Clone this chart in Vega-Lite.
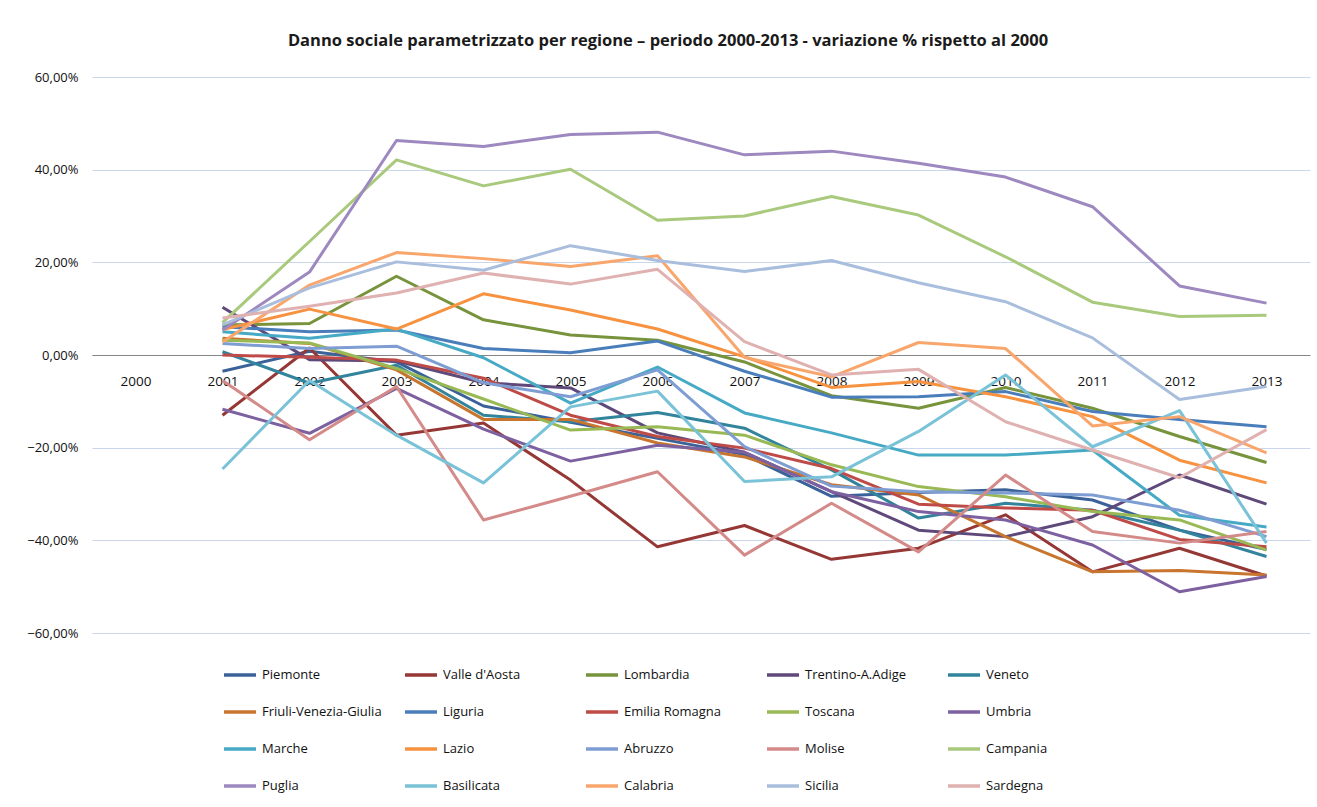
{
"$schema": "https://vega.github.io/schema/vega-lite/v6.json",
"width": 1218, "height": 556,
"autosize": {"type": "none"},
"padding": {"left": 92, "top": 77, "right": 7, "bottom": 174},
"background": "white",
"title": {"text": "Danno sociale parametrizzato per regione – periodo 2000-2013 - variazione % rispetto al 2000", "font": "Open Sans", "fontSize": 16.5, "fontWeight": "bold", "color": "#1a1a1a", "anchor": "middle", "frame": "group", "dx": -33, "offset": 22},
"config": {"view": {"stroke": null}},
"data": {"values": [
{"r":"Piemonte","y":"2001","v":-0.035},{"r":"Piemonte","y":"2002","v":0.008},{"r":"Piemonte","y":"2003","v":-0.015},{"r":"Piemonte","y":"2004","v":-0.11},{"r":"Piemonte","y":"2005","v":-0.145},{"r":"Piemonte","y":"2006","v":-0.18},{"r":"Piemonte","y":"2007","v":-0.215},{"r":"Piemonte","y":"2008","v":-0.305},{"r":"Piemonte","y":"2009","v":-0.297},{"r":"Piemonte","y":"2010","v":-0.291},{"r":"Piemonte","y":"2011","v":-0.313},{"r":"Piemonte","y":"2012","v":-0.378},{"r":"Piemonte","y":"2013","v":-0.42},
{"r":"Valle d'Aosta","y":"2001","v":-0.13},{"r":"Valle d'Aosta","y":"2002","v":0.015},{"r":"Valle d'Aosta","y":"2003","v":-0.173},{"r":"Valle d'Aosta","y":"2004","v":-0.147},{"r":"Valle d'Aosta","y":"2005","v":-0.27},{"r":"Valle d'Aosta","y":"2006","v":-0.414},{"r":"Valle d'Aosta","y":"2007","v":-0.368},{"r":"Valle d'Aosta","y":"2008","v":-0.441},{"r":"Valle d'Aosta","y":"2009","v":-0.417},{"r":"Valle d'Aosta","y":"2010","v":-0.345},{"r":"Valle d'Aosta","y":"2011","v":-0.468},{"r":"Valle d'Aosta","y":"2012","v":-0.417},{"r":"Valle d'Aosta","y":"2013","v":-0.477},
{"r":"Lombardia","y":"2001","v":0.065},{"r":"Lombardia","y":"2002","v":0.068},{"r":"Lombardia","y":"2003","v":0.17},{"r":"Lombardia","y":"2004","v":0.076},{"r":"Lombardia","y":"2005","v":0.043},{"r":"Lombardia","y":"2006","v":0.032},{"r":"Lombardia","y":"2007","v":-0.015},{"r":"Lombardia","y":"2008","v":-0.088},{"r":"Lombardia","y":"2009","v":-0.115},{"r":"Lombardia","y":"2010","v":-0.07},{"r":"Lombardia","y":"2011","v":-0.115},{"r":"Lombardia","y":"2012","v":-0.176},{"r":"Lombardia","y":"2013","v":-0.232},
{"r":"Trentino-A.Adige","y":"2001","v":0.103},{"r":"Trentino-A.Adige","y":"2002","v":-0.01},{"r":"Trentino-A.Adige","y":"2003","v":-0.013},{"r":"Trentino-A.Adige","y":"2004","v":-0.06},{"r":"Trentino-A.Adige","y":"2005","v":-0.071},{"r":"Trentino-A.Adige","y":"2006","v":-0.168},{"r":"Trentino-A.Adige","y":"2007","v":-0.21},{"r":"Trentino-A.Adige","y":"2008","v":-0.295},{"r":"Trentino-A.Adige","y":"2009","v":-0.378},{"r":"Trentino-A.Adige","y":"2010","v":-0.392},{"r":"Trentino-A.Adige","y":"2011","v":-0.349},{"r":"Trentino-A.Adige","y":"2012","v":-0.259},{"r":"Trentino-A.Adige","y":"2013","v":-0.322},
{"r":"Veneto","y":"2001","v":0.007},{"r":"Veneto","y":"2002","v":-0.061},{"r":"Veneto","y":"2003","v":-0.022},{"r":"Veneto","y":"2004","v":-0.13},{"r":"Veneto","y":"2005","v":-0.144},{"r":"Veneto","y":"2006","v":-0.124},{"r":"Veneto","y":"2007","v":-0.158},{"r":"Veneto","y":"2008","v":-0.248},{"r":"Veneto","y":"2009","v":-0.352},{"r":"Veneto","y":"2010","v":-0.32},{"r":"Veneto","y":"2011","v":-0.335},{"r":"Veneto","y":"2012","v":-0.378},{"r":"Veneto","y":"2013","v":-0.435},
{"r":"Friuli-Venezia-Giulia","y":"2001","v":0.036},{"r":"Friuli-Venezia-Giulia","y":"2002","v":0.025},{"r":"Friuli-Venezia-Giulia","y":"2003","v":-0.032},{"r":"Friuli-Venezia-Giulia","y":"2004","v":-0.139},{"r":"Friuli-Venezia-Giulia","y":"2005","v":-0.139},{"r":"Friuli-Venezia-Giulia","y":"2006","v":-0.19},{"r":"Friuli-Venezia-Giulia","y":"2007","v":-0.22},{"r":"Friuli-Venezia-Giulia","y":"2008","v":-0.28},{"r":"Friuli-Venezia-Giulia","y":"2009","v":-0.302},{"r":"Friuli-Venezia-Giulia","y":"2010","v":-0.392},{"r":"Friuli-Venezia-Giulia","y":"2011","v":-0.468},{"r":"Friuli-Venezia-Giulia","y":"2012","v":-0.465},{"r":"Friuli-Venezia-Giulia","y":"2013","v":-0.475},
{"r":"Liguria","y":"2001","v":0.061},{"r":"Liguria","y":"2002","v":0.05},{"r":"Liguria","y":"2003","v":0.054},{"r":"Liguria","y":"2004","v":0.014},{"r":"Liguria","y":"2005","v":0.005},{"r":"Liguria","y":"2006","v":0.03},{"r":"Liguria","y":"2007","v":-0.035},{"r":"Liguria","y":"2008","v":-0.091},{"r":"Liguria","y":"2009","v":-0.09},{"r":"Liguria","y":"2010","v":-0.079},{"r":"Liguria","y":"2011","v":-0.122},{"r":"Liguria","y":"2012","v":-0.139},{"r":"Liguria","y":"2013","v":-0.155},
{"r":"Emilia Romagna","y":"2001","v":0.0},{"r":"Emilia Romagna","y":"2002","v":-0.005},{"r":"Emilia Romagna","y":"2003","v":-0.011},{"r":"Emilia Romagna","y":"2004","v":-0.05},{"r":"Emilia Romagna","y":"2005","v":-0.13},{"r":"Emilia Romagna","y":"2006","v":-0.176},{"r":"Emilia Romagna","y":"2007","v":-0.201},{"r":"Emilia Romagna","y":"2008","v":-0.245},{"r":"Emilia Romagna","y":"2009","v":-0.322},{"r":"Emilia Romagna","y":"2010","v":-0.33},{"r":"Emilia Romagna","y":"2011","v":-0.335},{"r":"Emilia Romagna","y":"2012","v":-0.398},{"r":"Emilia Romagna","y":"2013","v":-0.414},
{"r":"Toscana","y":"2001","v":0.032},{"r":"Toscana","y":"2002","v":0.026},{"r":"Toscana","y":"2003","v":-0.029},{"r":"Toscana","y":"2004","v":-0.095},{"r":"Toscana","y":"2005","v":-0.162},{"r":"Toscana","y":"2006","v":-0.155},{"r":"Toscana","y":"2007","v":-0.173},{"r":"Toscana","y":"2008","v":-0.237},{"r":"Toscana","y":"2009","v":-0.284},{"r":"Toscana","y":"2010","v":-0.306},{"r":"Toscana","y":"2011","v":-0.338},{"r":"Toscana","y":"2012","v":-0.356},{"r":"Toscana","y":"2013","v":-0.421},
{"r":"Umbria","y":"2001","v":-0.117},{"r":"Umbria","y":"2002","v":-0.169},{"r":"Umbria","y":"2003","v":-0.072},{"r":"Umbria","y":"2004","v":-0.16},{"r":"Umbria","y":"2005","v":-0.229},{"r":"Umbria","y":"2006","v":-0.195},{"r":"Umbria","y":"2007","v":-0.21},{"r":"Umbria","y":"2008","v":-0.295},{"r":"Umbria","y":"2009","v":-0.338},{"r":"Umbria","y":"2010","v":-0.356},{"r":"Umbria","y":"2011","v":-0.41},{"r":"Umbria","y":"2012","v":-0.511},{"r":"Umbria","y":"2013","v":-0.478},
{"r":"Marche","y":"2001","v":0.05},{"r":"Marche","y":"2002","v":0.036},{"r":"Marche","y":"2003","v":0.056},{"r":"Marche","y":"2004","v":-0.006},{"r":"Marche","y":"2005","v":-0.104},{"r":"Marche","y":"2006","v":-0.026},{"r":"Marche","y":"2007","v":-0.125},{"r":"Marche","y":"2008","v":-0.168},{"r":"Marche","y":"2009","v":-0.216},{"r":"Marche","y":"2010","v":-0.216},{"r":"Marche","y":"2011","v":-0.205},{"r":"Marche","y":"2012","v":-0.346},{"r":"Marche","y":"2013","v":-0.371},
{"r":"Lazio","y":"2001","v":0.055},{"r":"Lazio","y":"2002","v":0.099},{"r":"Lazio","y":"2003","v":0.056},{"r":"Lazio","y":"2004","v":0.132},{"r":"Lazio","y":"2005","v":0.097},{"r":"Lazio","y":"2006","v":0.056},{"r":"Lazio","y":"2007","v":-0.004},{"r":"Lazio","y":"2008","v":-0.07},{"r":"Lazio","y":"2009","v":-0.057},{"r":"Lazio","y":"2010","v":-0.09},{"r":"Lazio","y":"2011","v":-0.133},{"r":"Lazio","y":"2012","v":-0.227},{"r":"Lazio","y":"2013","v":-0.276},
{"r":"Abruzzo","y":"2001","v":0.025},{"r":"Abruzzo","y":"2002","v":0.014},{"r":"Abruzzo","y":"2003","v":0.019},{"r":"Abruzzo","y":"2004","v":-0.06},{"r":"Abruzzo","y":"2005","v":-0.09},{"r":"Abruzzo","y":"2006","v":-0.032},{"r":"Abruzzo","y":"2007","v":-0.198},{"r":"Abruzzo","y":"2008","v":-0.283},{"r":"Abruzzo","y":"2009","v":-0.295},{"r":"Abruzzo","y":"2010","v":-0.298},{"r":"Abruzzo","y":"2011","v":-0.302},{"r":"Abruzzo","y":"2012","v":-0.335},{"r":"Abruzzo","y":"2013","v":-0.392},
{"r":"Molise","y":"2001","v":-0.055},{"r":"Molise","y":"2002","v":-0.183},{"r":"Molise","y":"2003","v":-0.068},{"r":"Molise","y":"2004","v":-0.356},{"r":"Molise","y":"2005","v":-0.305},{"r":"Molise","y":"2006","v":-0.252},{"r":"Molise","y":"2007","v":-0.432},{"r":"Molise","y":"2008","v":-0.32},{"r":"Molise","y":"2009","v":-0.425},{"r":"Molise","y":"2010","v":-0.259},{"r":"Molise","y":"2011","v":-0.381},{"r":"Molise","y":"2012","v":-0.406},{"r":"Molise","y":"2013","v":-0.381},
{"r":"Campania","y":"2001","v":0.07},{"r":"Campania","y":"2002","v":0.245},{"r":"Campania","y":"2003","v":0.421},{"r":"Campania","y":"2004","v":0.365},{"r":"Campania","y":"2005","v":0.401},{"r":"Campania","y":"2006","v":0.291},{"r":"Campania","y":"2007","v":0.30},{"r":"Campania","y":"2008","v":0.342},{"r":"Campania","y":"2009","v":0.302},{"r":"Campania","y":"2010","v":0.212},{"r":"Campania","y":"2011","v":0.114},{"r":"Campania","y":"2012","v":0.083},{"r":"Campania","y":"2013","v":0.086},
{"r":"Puglia","y":"2001","v":0.054},{"r":"Puglia","y":"2002","v":0.179},{"r":"Puglia","y":"2003","v":0.463},{"r":"Puglia","y":"2004","v":0.45},{"r":"Puglia","y":"2005","v":0.476},{"r":"Puglia","y":"2006","v":0.481},{"r":"Puglia","y":"2007","v":0.432},{"r":"Puglia","y":"2008","v":0.44},{"r":"Puglia","y":"2009","v":0.414},{"r":"Puglia","y":"2010","v":0.384},{"r":"Puglia","y":"2011","v":0.32},{"r":"Puglia","y":"2012","v":0.149},{"r":"Puglia","y":"2013","v":0.112},
{"r":"Basilicata","y":"2001","v":-0.246},{"r":"Basilicata","y":"2002","v":-0.055},{"r":"Basilicata","y":"2003","v":-0.173},{"r":"Basilicata","y":"2004","v":-0.276},{"r":"Basilicata","y":"2005","v":-0.112},{"r":"Basilicata","y":"2006","v":-0.078},{"r":"Basilicata","y":"2007","v":-0.273},{"r":"Basilicata","y":"2008","v":-0.263},{"r":"Basilicata","y":"2009","v":-0.165},{"r":"Basilicata","y":"2010","v":-0.043},{"r":"Basilicata","y":"2011","v":-0.198},{"r":"Basilicata","y":"2012","v":-0.12},{"r":"Basilicata","y":"2013","v":-0.406},
{"r":"Calabria","y":"2001","v":0.028},{"r":"Calabria","y":"2002","v":0.151},{"r":"Calabria","y":"2003","v":0.221},{"r":"Calabria","y":"2004","v":0.208},{"r":"Calabria","y":"2005","v":0.191},{"r":"Calabria","y":"2006","v":0.214},{"r":"Calabria","y":"2007","v":-0.005},{"r":"Calabria","y":"2008","v":-0.047},{"r":"Calabria","y":"2009","v":0.027},{"r":"Calabria","y":"2010","v":0.014},{"r":"Calabria","y":"2011","v":-0.153},{"r":"Calabria","y":"2012","v":-0.133},{"r":"Calabria","y":"2013","v":-0.211},
{"r":"Sicilia","y":"2001","v":0.065},{"r":"Sicilia","y":"2002","v":0.145},{"r":"Sicilia","y":"2003","v":0.201},{"r":"Sicilia","y":"2004","v":0.183},{"r":"Sicilia","y":"2005","v":0.236},{"r":"Sicilia","y":"2006","v":0.204},{"r":"Sicilia","y":"2007","v":0.18},{"r":"Sicilia","y":"2008","v":0.204},{"r":"Sicilia","y":"2009","v":0.156},{"r":"Sicilia","y":"2010","v":0.115},{"r":"Sicilia","y":"2011","v":0.037},{"r":"Sicilia","y":"2012","v":-0.096},{"r":"Sicilia","y":"2013","v":-0.068},
{"r":"Sardegna","y":"2001","v":0.08},{"r":"Sardegna","y":"2002","v":0.105},{"r":"Sardegna","y":"2003","v":0.134},{"r":"Sardegna","y":"2004","v":0.177},{"r":"Sardegna","y":"2005","v":0.153},{"r":"Sardegna","y":"2006","v":0.185},{"r":"Sardegna","y":"2007","v":0.029},{"r":"Sardegna","y":"2008","v":-0.043},{"r":"Sardegna","y":"2009","v":-0.031},{"r":"Sardegna","y":"2010","v":-0.144},{"r":"Sardegna","y":"2011","v":-0.205},{"r":"Sardegna","y":"2012","v":-0.265},{"r":"Sardegna","y":"2013","v":-0.161}
]},
"mark": {"type": "line", "strokeWidth": 3, "strokeJoin": "round"},
"encoding": {
"x": {"field": "y", "type": "ordinal", "sort": null,
 "scale": {"type": "point", "domain": ["2000","2001","2002","2003","2004","2005","2006","2007","2008","2009","2010","2011","2012","2013"], "padding": 0.5},
 "axis": {"title": null, "offset": -278, "domainColor": "#868686", "domainWidth": 1, "ticks": false, "labelPadding": 19, "labelFont": "Open Sans", "labelFontSize": 13.5, "labelColor": "#111", "labelAngle": 0, "grid": false, "zindex": 0}},
"y": {"field": "v", "type": "quantitative",
 "scale": {"domain": [-0.6, 0.6], "nice": false, "zero": false},
 "axis": {"title": null, "values": [-0.6,-0.4,-0.2,0,0.2,0.4,0.6], "labelExpr": "replace(format(datum.value,'.2%'),'.',',')", "domain": false, "ticks": false, "gridColor": "#C9D6EC", "gridWidth": 1, "labelPadding": 14, "labelFont": "Open Sans", "labelFontSize": 13, "labelColor": "#111"}},
"color": {"field": "r", "type": "nominal",
 "scale": {"domain": ["Piemonte","Valle d'Aosta","Lombardia","Trentino-A.Adige","Veneto","Friuli-Venezia-Giulia","Liguria","Emilia Romagna","Toscana","Umbria","Marche","Lazio","Abruzzo","Molise","Campania","Puglia","Basilicata","Calabria","Sicilia","Sardegna"],
  "range": ["#3B6298","#953735","#77933C","#5F497A","#31849B","#C8762F","#4A7EBB","#BE4B48","#98B954","#7D60A0","#46AAC5","#F69240","#7E9DD2","#D38A88","#A9C97D","#9D88BF","#79C2D7","#F9A66C","#A9BEDD","#DFB1B0"]},
 "legend": {"title": null, "orient": "none", "legendX": 130, "legendY": 580, "direction": "horizontal", "columns": 5, "gridAlign": "all", "symbolType": "stroke", "symbolSize": 1024, "symbolStrokeWidth": 3.5, "labelFont": "Open Sans", "labelFontSize": 13, "labelColor": "#111", "labelOffset": 4, "rowPadding": 12, "columnPadding": 16, "labelLimit": 200, "padding": 0}}
}
}
